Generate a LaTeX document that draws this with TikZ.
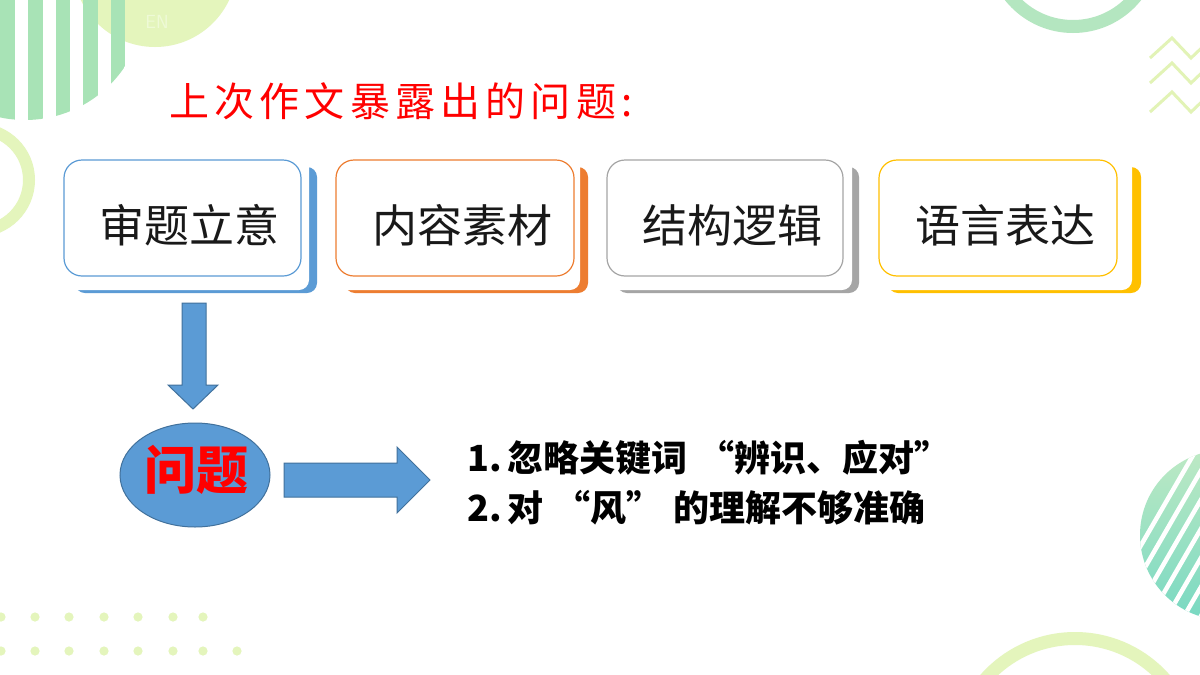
\documentclass[tikz,border=0pt]{standalone}
\usepackage{fontspec}
\newfontfamily\cjk{Noto Sans CJK SC}
\usetikzlibrary{shapes.geometric}
\definecolor{limec}{RGB}{228,245,188}
\definecolor{limetxt}{RGB}{238,250,214}
\definecolor{stripeg}{RGB}{168,227,182}
\definecolor{ringg}{RGB}{180,230,192}
\definecolor{zigc}{RGB}{226,243,182}
\definecolor{topsh}{RGB}{192,234,196}
\definecolor{botsh}{RGB}{118,216,194}
\definecolor{cblue}{RGB}{91,155,213}
\definecolor{cdblue}{RGB}{65,113,156}
\definecolor{corange}{RGB}{237,125,49}
\definecolor{cgray}{RGB}{165,165,165}
\definecolor{cgold}{RGB}{255,192,0}
\definecolor{cred}{RGB}{255,0,0}
\newcommand{\fwl}{\hspace{11pt}“}
\newcommand{\fwr}{”\hspace{11pt}}
\tikzset{
  frontbox/.style={draw=#1, fill=white, line width=1.2pt, rounded corners=18pt,
    minimum height=116pt, inner sep=0pt},
  boxtext/.style={font=\cjk\fontsize{45}{50}\selectfont, text=black!90, inner sep=0pt},
  blockarrow/.style={fill=cblue, draw=cdblue, line width=1pt},
  listtext/.style={font=\cjk\bfseries\fontsize{36}{40}\selectfont, text=black, inner sep=0pt},
  dotc/.style={fill=limec}
}
\newcommand{\cardbox}[8]{%
  % #1 name, #2 colour, #3 front left, #4 front right, #5 back right, #6 back left, #7 text, #8 inner right
  \fill[#2, rounded corners=10pt] (#6,167) rectangle (#5,293);
  \fill[white, rounded corners=10pt] (#6-15,150) rectangle (#8,290);
  \node[frontbox=#2, minimum width={(#4-#3)*1pt}] (#1) at ({(#3+#4)/2},218) {};
  \node[boxtext] (#1t) at ([xshift=7pt,yshift=-7pt]#1.center) {#7};
}
\begin{document}
\begin{tikzpicture}[x=1pt,y=-1pt]
\useasboundingbox (0,0) rectangle (1200,675);
\fill[white] (0,0) rectangle (1200,675);

% top-left decorations
\fill[limec] (155,-35) circle[radius=82pt];
\node[font=\sffamily\fontsize{19}{20}\selectfont, text=limetxt] (en) at (157,22) {EN};
\begin{scope}
  \clip (25,0) circle[radius=120pt];
  \foreach \x in {0,28,55.5,83,110.5}
    \fill[stripeg] (\x,-5) rectangle ++(14.5,140);
\end{scope}
\draw[limec, line width=12pt] (-22,180) circle[radius=51pt];

% top-right decorations
\draw[ringg, line width=13pt] (1073,-54) circle[radius=80.5pt];
\foreach \dy in {0,25,54}
  \draw[zigc, line width=3pt] (1150,58+\dy) -- (1172,38+\dy) -- (1191,58+\dy) -- (1212,38+\dy);

% bottom-right decorations
\begin{scope}
  \clip (1225,535) circle[radius=85pt];
  \shade[top color=topsh, bottom color=botsh] (1130,445) rectangle (1320,625);
  \foreach \k in {0,...,9}
    \draw[white, line width=4.5pt] ({1166+12.6*\k-70},{502+7.3*\k+121}) -- ++(140,-242);
\end{scope}
\draw[limec, line width=13pt] (1075,758) circle[radius=119.5pt];

% bottom-left dots
\foreach \x in {1,35,69,104,138,173,203}
  \fill[dotc] (\x,617) circle[radius=4.6pt];
\foreach \x in {1,35,69,104,138,173,203,237}
  \fill[dotc] (\x,651) circle[radius=4.6pt];

% title
\node[anchor=west, inner sep=0pt, text=cred,
      font=\cjk\addfontfeature{LetterSpace=13}\fontsize{40}{44}\selectfont] (title) at (169,101)
  {上次作文暴露出的问题:};

% four cards
\cardbox{b1}{cblue}{64}{301}{317}{75}{审题立意}{309}
\cardbox{b2}{corange}{336}{574}{588}{345}{内容素材}{580}
\cardbox{b3}{cgray}{607}{843}{859}{617}{结构逻辑}{852}
\cardbox{b4}{cgold}{879}{1117}{1141}{888}{语言表达}{1132}

% problem ellipse
\node[ellipse, fill=cblue, draw=cdblue, line width=1pt, minimum width=150pt, minimum height=104pt,
      inner sep=0pt] (wt) at (195,475) {};
\node[font=\cjk\bfseries\fontsize{52}{56}\selectfont, text=cred, inner sep=0pt] (wtt)
  at ([xshift=1pt,yshift=5pt]wt.center) {问题};

% block arrows
\draw[blockarrow] (182,303) -- (206,303) -- (206,385) -- (218,385) -- (193,409)
  -- (168,385) -- (182,385) -- cycle;
\draw[blockarrow] (284,463) -- (397,463) -- (397,447) -- (430,480) -- (397,513)
  -- (397,497) -- (284,497) -- cycle;

% list
\node[listtext, anchor=west] (l1) at (467,458) {1.\,忽略关键词\fwl 辨识、应对\fwr};
\node[listtext, anchor=west] (l2) at (467,508) {2.\,对\fwl 风\fwr 的理解不够准确};
\end{tikzpicture}
\end{document}
